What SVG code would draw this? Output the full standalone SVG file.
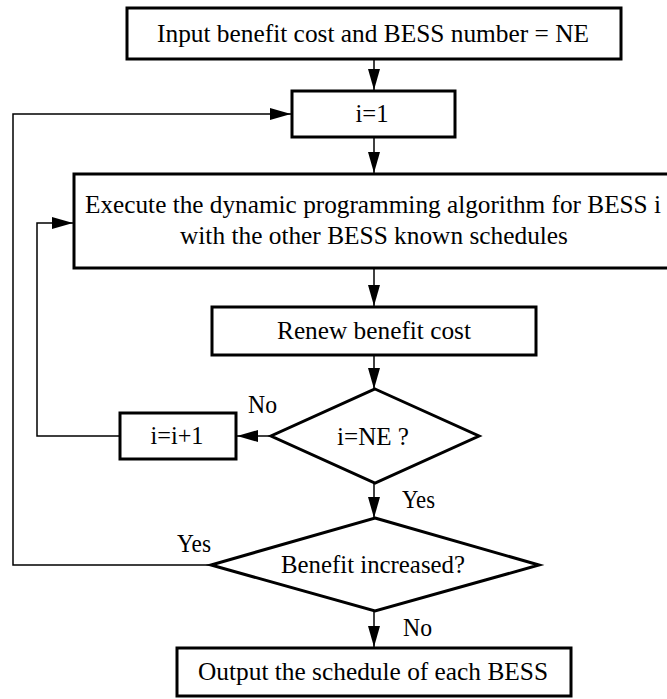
<svg xmlns="http://www.w3.org/2000/svg" width="667" height="699" viewBox="0 0 667 699">
<defs>
<style>
.box{fill:#fff;stroke:#000;stroke-width:3}
.t{font-family:"Liberation Serif","Times New Roman",serif;font-size:26px;fill:#000;text-anchor:middle}
.lbl{font-family:"Liberation Serif","Times New Roman",serif;font-size:25px;fill:#000}
.c{fill:none;stroke:#000;stroke-width:1.5}
</style>
<marker id="ah" markerUnits="userSpaceOnUse" markerWidth="21" markerHeight="12" refX="21" refY="6" orient="auto">
<path d="M0,0 L21,6 L0,12 z" fill="#000"/>
</marker>
</defs>
<rect width="667" height="699" fill="#fff"/>
<g id="connectors">
<line class="c" x1="374" y1="60" x2="374" y2="90" marker-end="url(#ah)"/>
<line class="c" x1="374" y1="138" x2="374" y2="173" marker-end="url(#ah)"/>
<line class="c" x1="374" y1="269" x2="374" y2="306" marker-end="url(#ah)"/>
<line class="c" x1="374" y1="356" x2="374" y2="389" marker-end="url(#ah)"/>
<line class="c" x1="374" y1="483" x2="374" y2="518" marker-end="url(#ah)"/>
<line class="c" x1="374" y1="611" x2="374" y2="647" marker-end="url(#ah)"/>
<line class="c" x1="271" y1="436" x2="237" y2="436" marker-end="url(#ah)"/>
<polyline class="c" points="120,436 37,436 37,223 73,223" marker-end="url(#ah)"/>
<polyline class="c" points="211,565 13,565 13,114 291,114" marker-end="url(#ah)"/>
<text class="lbl" x="248" y="413" textLength="29" lengthAdjust="spacingAndGlyphs">No</text>
<text class="lbl" x="402" y="508" textLength="33" lengthAdjust="spacingAndGlyphs">Yes</text>
<text class="lbl" x="177" y="552" textLength="34" lengthAdjust="spacingAndGlyphs">Yes</text>
<text class="lbl" x="403" y="636" textLength="29" lengthAdjust="spacingAndGlyphs">No</text>
</g>
<g id="input">
<rect class="box" x="127" y="8" width="494" height="51"/>
<text class="t" x="373" y="42" textLength="432" lengthAdjust="spacingAndGlyphs">Input benefit cost and BESS number = NE</text>
</g>
<g id="init">
<rect class="box" x="292" y="91" width="163" height="46"/>
<text class="t" x="372" y="122" textLength="33" lengthAdjust="spacingAndGlyphs">i=1</text>
</g>
<g id="execute">
<rect class="box" x="74" y="174" width="600" height="94"/>
<text class="t" x="373" y="213" textLength="576" lengthAdjust="spacingAndGlyphs">Execute the dynamic programming algorithm for BESS i</text>
<text class="t" x="374" y="244" textLength="388" lengthAdjust="spacingAndGlyphs">with the other BESS known schedules</text>
</g>
<g id="renew">
<rect class="box" x="212" y="307" width="324" height="48"/>
<text class="t" x="374" y="339" textLength="194" lengthAdjust="spacingAndGlyphs">Renew benefit cost</text>
</g>
<g id="check-ne">
<polygon class="box" points="375,389 479,436 375,483 271,436"/>
<text class="t" x="373" y="445" textLength="72" lengthAdjust="spacingAndGlyphs">i=NE ?</text>
</g>
<g id="increment">
<rect class="box" x="120" y="413" width="116" height="46"/>
<text class="t" x="177" y="444" textLength="53" lengthAdjust="spacingAndGlyphs">i=i+1</text>
</g>
<g id="check-benefit">
<polygon class="box" points="375,518 539,565 375,611 211,565"/>
<text class="t" x="373" y="573" textLength="184" lengthAdjust="spacingAndGlyphs">Benefit increased?</text>
</g>
<g id="output">
<rect class="box" x="177" y="648" width="394" height="48"/>
<text class="t" x="373" y="680" textLength="350" lengthAdjust="spacingAndGlyphs">Output the schedule of each BESS</text>
</g>
</svg>
